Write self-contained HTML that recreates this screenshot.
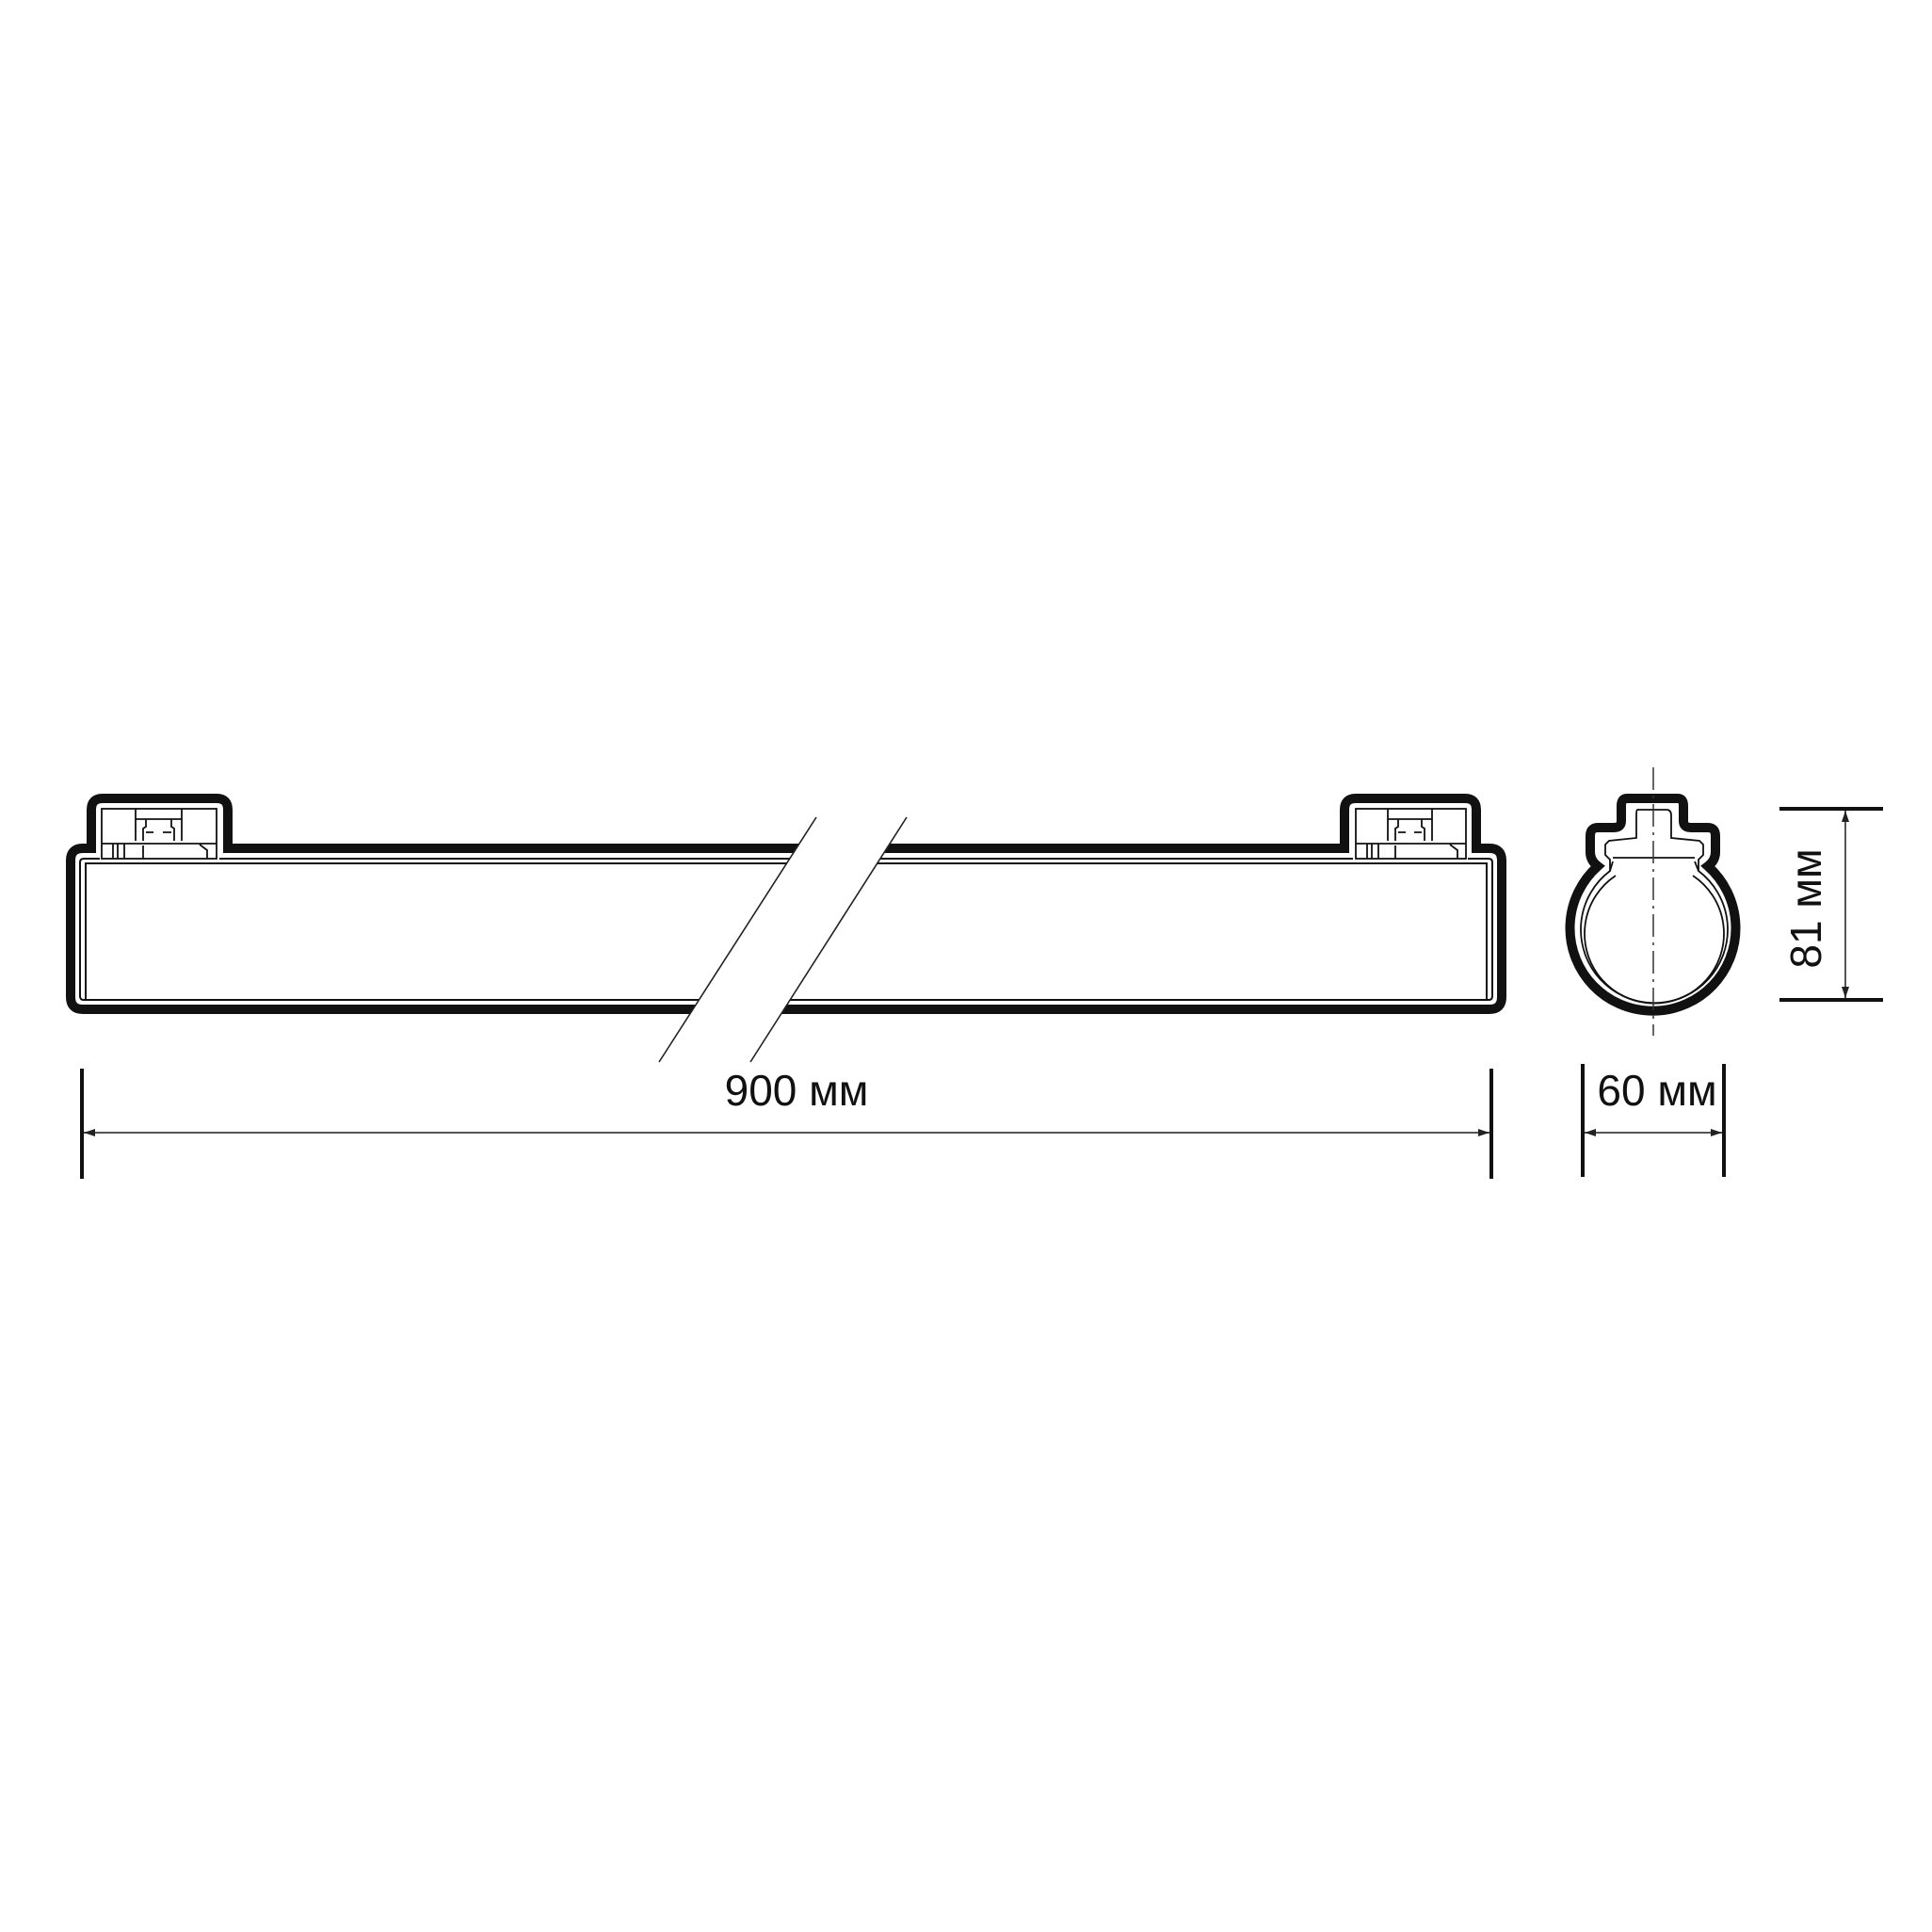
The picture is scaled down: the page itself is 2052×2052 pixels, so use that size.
<!DOCTYPE html>
<html><head><meta charset="utf-8"><style>
html,body{margin:0;padding:0;background:#fff}
svg{display:block}
text{font-family:"Liberation Sans","DejaVu Sans",sans-serif;fill:#111}
</style></head><body>
<svg width="2052" height="2052" viewBox="0 0 2052 2052" xmlns="http://www.w3.org/2000/svg">
<defs>
<marker id="ar" viewBox="0 0 12 8" refX="12" refY="4" markerWidth="12" markerHeight="8" orient="auto-start-reverse" markerUnits="userSpaceOnUse"><path d="M0 0L12 4L0 8z" fill="#222"/></marker>
</defs>
<path d="M242 901 L1428 901 L1428 860 Q1428 848 1440 848 L1556 848 Q1568 848 1568 860 L1568 901 L1582 901 Q1595 901 1595 914 L1595 1059 Q1595 1072 1582 1072 L88 1072 Q75 1072 75 1059 L75 914 Q75 901 88 901 L97 901 L97 860 Q97 848 109 848 L230 848 Q242 848 242 860 Z" fill="none" stroke="#111" stroke-width="10"/>
<path d="M233 912 L1437 912 M1559 912 L1581 912 Q1585 912 1585 916 L1585 1058 Q1585 1062 1581 1062 L89 1062 Q85 1062 85 1058 L85 916 Q85 912 89 912 L106 912" fill="none" stroke="#111" stroke-width="2"/>
<rect x="91" y="917" width="1488" height="145" fill="none" stroke="#111" stroke-width="2"/>
<g fill="none" stroke="#111" stroke-width="1.8">
<rect x="108" y="859" width="122" height="53"/>
<path d="M144 859V870H193V859M144 870V893M193 870V893M155 870V878L152 880V893M182 870V878L185 880V893M155 884H163M182 884H173M108 896H230M120 896V912M125 896V912M132 896V912M152 898V912M212 897L220 903V912"/>
<rect x="1440" y="859" width="117" height="53"/>
<path d="M1474 859V870H1521V859M1474 870V893M1521 870V893M1485 870V878L1482 880V893M1510 870V878L1513 880V893M1485 884H1493M1510 884H1502M1440 896H1557M1452 896V912M1457 896V912M1464 896V912M1482 898V912M1540 897L1548 903V912"/>
</g>
<polygon points="867,868 963,868 797,1128 700,1128" fill="#fff"/>
<line x1="867" y1="868" x2="700" y2="1128" stroke="#222" stroke-width="1.6"/>
<line x1="963" y1="868" x2="797" y2="1128" stroke="#222" stroke-width="1.6"/>
<line x1="87" y1="1135" x2="87" y2="1252" stroke="#111" stroke-width="4"/>
<line x1="1584" y1="1135" x2="1584" y2="1252" stroke="#111" stroke-width="4"/>
<line x1="89" y1="1203" x2="1582" y2="1203" stroke="#555" stroke-width="2" marker-start="url(#ar)" marker-end="url(#ar)"/>
<text x="846" y="1174" font-size="46" text-anchor="middle">900 мм</text>
<path d="M1728 848 L1782 848 Q1788 848 1788 856 L1788 872 Q1788 879 1796 879 L1814 879 Q1822 879 1822 888 L1822 905 Q1822 914 1814 920 A88 88 0 1 1 1697 920 Q1689 914 1689 905 L1689 888 Q1689 879 1697 879 L1714 879 Q1722 879 1722 872 L1722 856 Q1722 848 1728 848 Z" fill="none" stroke="#111" stroke-width="10"/>
<g fill="none" stroke="#111" stroke-width="1.8">
<path d="M1739 860 L1770 860 Q1775 860 1775 866 L1775 890 L1805 893 L1809 897 L1809 908 L1804 913 L1804 925 A78 78 0 1 1 1710 925 L1710 913 L1705 908 L1705 897 L1709 893 L1738 890 L1738 866 Q1738 860 1739 860 Z"/>
<path d="M1713 911 L1800 911 M1713 915 L1710 925 M1800 915 L1804 925"/>
<path d="M1716 930 A74 74 0 1 0 1798 930"/>
</g>
<line x1="1756" y1="815" x2="1756" y2="1100" stroke="#333" stroke-width="1.5" stroke-dasharray="24 6 3 6"/>
<line x1="1890" y1="859" x2="2000" y2="859" stroke="#111" stroke-width="4"/>
<line x1="1890" y1="1062" x2="2000" y2="1062" stroke="#111" stroke-width="4"/>
<line x1="1960" y1="861" x2="1960" y2="1060" stroke="#555" stroke-width="2" marker-start="url(#ar)" marker-end="url(#ar)"/>
<text transform="translate(1934 965) rotate(-90)" font-size="46" text-anchor="middle">81 мм</text>
<line x1="1681" y1="1130" x2="1681" y2="1250" stroke="#111" stroke-width="4"/>
<line x1="1831" y1="1130" x2="1831" y2="1250" stroke="#111" stroke-width="4"/>
<line x1="1683" y1="1203" x2="1829" y2="1203" stroke="#555" stroke-width="2" marker-start="url(#ar)" marker-end="url(#ar)"/>
<text x="1760" y="1174" font-size="46" text-anchor="middle">60 мм</text>
</svg>
</body></html>
